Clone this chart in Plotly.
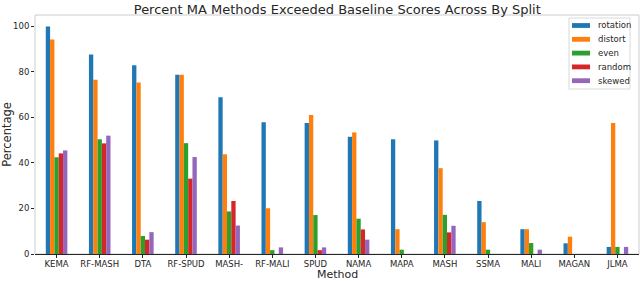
import plotly.graph_objects as go

methods = ["KEMA", "RF-MASH", "DTA", "RF-SPUD", "MASH-", "RF-MALI", "SPUD",
           "NAMA", "MAPA", "MASH", "SSMA", "MALI", "MAGAN", "JLMA"]
rotation = [100, 87.6, 82.9, 78.8, 68.9, 57.9, 57.6, 51.5, 50.4, 49.9, 23.3, 10.9, 4.7, 3.1]
distort = [94.2, 76.6, 75.3, 78.8, 43.8, 20.1, 61.1, 53.4, 10.9, 37.7, 14.0, 10.9, 7.6, 57.6]
even = [42.5, 50.4, 7.9, 48.7, 18.7, 1.7, 17.1, 15.5, 1.9, 17.2, 1.9, 4.8, 0, 3.1]
random_ = [44.2, 48.6, 6.3, 33.1, 23.3, 0, 1.7, 10.8, 0, 9.5, 0, 0, 0, 0]
skewed = [45.5, 52.0, 9.6, 42.6, 12.5, 2.9, 2.9, 6.3, 0, 12.4, 0, 1.9, 0, 3.1]

series = [("rotation", rotation, "#1f77b4"),
          ("distort", distort, "#ff7f0e"),
          ("even", even, "#2ca02c"),
          ("random", random_, "#d62728"),
          ("skewed", skewed, "#9467bd")]

font = "DejaVu Sans"
W, H = 640, 281
ML, MR, MT, MB = 35, 1, 15, 27
PW, PH = W - ML - MR, H - MT - MB


def px_x(p):
    return (p - ML) / PW


def px_y(p):
    return (H - MB - p) / PH


fig = go.Figure()
for name, vals, col in series:
    fig.add_trace(go.Bar(x=methods, y=vals, name=name,
                         marker=dict(color=col, line=dict(width=0))))

# legend drawn as a compact box (matplotlib-style spacing)
shapes = [dict(type="rect", xref="paper", yref="paper", x0=0, x1=1, y0=0, y1=1,
               line=dict(color="#cccccc", width=1), layer="below"),
          dict(type="rect", xref="paper", yref="paper",
               x0=px_x(569), x1=px_x(630), y0=px_y(89), y1=px_y(18),
               line=dict(color="#d9d9d9", width=1), fillcolor="rgba(255,255,255,0.9)",
               layer="above")]
annotations = []
for i, (name, vals, col) in enumerate(series):
    cy = 25.5 + 13.8 * i
    shapes.append(dict(type="rect", xref="paper", yref="paper",
                       x0=px_x(572), x1=px_x(590), y0=px_y(cy + 2.4), y1=px_y(cy - 2.4),
                       line=dict(width=0), fillcolor=col, layer="above"))
    annotations.append(dict(text=name, xref="paper", yref="paper",
                            x=px_x(596), y=px_y(cy), xanchor="left", yanchor="middle",
                            showarrow=False, font=dict(size=8.5, color="#262626")))

# x-axis title
annotations.append(dict(text="Method", xref="paper", yref="paper",
                        x=0.5, y=px_y(274.5), xanchor="center", yanchor="middle",
                        borderpad=0, showarrow=False,
                        font=dict(size=11, color="#262626")))

fig.update_layout(
    width=W, height=H,
    margin=dict(l=ML, r=MR, t=MT, b=MB, autoexpand=False),
    paper_bgcolor="white", plot_bgcolor="white",
    barmode="group", bargap=0.5, bargroupgap=0,
    showlegend=False,
    font=dict(family=font, size=8.5, color="#262626"),
    title=dict(text="Percent MA Methods Exceeded Baseline Scores Across By Split",
               x=0.527, xanchor="center", y=0.968, yanchor="middle",
               font=dict(size=13, color="#262626")),
    xaxis=dict(range=[-0.5, 13.5], showline=True, linecolor="#262626", linewidth=1,
               ticks="outside", ticklen=3, tickcolor="#262626", showgrid=False,
               ticklabelstandoff=-1,
               tickfont=dict(size=8.5)),
    yaxis=dict(range=[0, 105], tickvals=[0, 20, 40, 60, 80, 100], showgrid=False,
               showline=False, ticks="outside", ticklen=3, tickcolor="#262626",
               zeroline=False,
               title=dict(text="Percentage", font=dict(size=11.5), standoff=4),
               tickfont=dict(size=8.5)),
    shapes=shapes,
    annotations=annotations,
)
fig.write_html("out.html", config={"displayModeBar": False},
               post_script="document.body.style.margin='0';")
